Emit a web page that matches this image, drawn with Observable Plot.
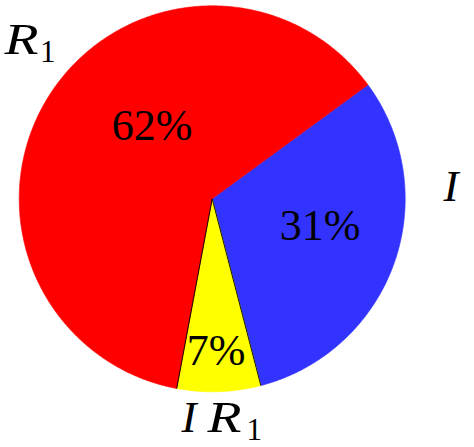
<!DOCTYPE html>
<html><head><meta charset="utf-8">
<script src="https://cdn.jsdelivr.net/npm/d3@7"></script>
<script src="https://cdn.jsdelivr.net/npm/@observablehq/plot@0.6"></script>
<style>html,body{margin:0;padding:0;background:#fff}</style>
</head><body><div id="chart"></div>
<script>
// ---- data ----
const categories = ["I", "IR1", "R1"];
const values = [31, 7, 62];
const colors = ["#3333ff", "#ffff00", "#ff0000"];

// ---- layout (pixels) ----
const W = 474, H = 447;
const cx = 211.7, cy = 198.3, R = 193;
const toX = px => (px - cx) / R, toY = py => (cy - py) / R;
const startDeg = 53.8;

const arcs = d3.pie().sort(null)
  .startAngle(startDeg * Math.PI / 180)
  .endAngle((startDeg + 360) * Math.PI / 180)(values);

const slices = [];
arcs.forEach((a, i) => {
  const k = categories[i];
  slices.push({k, x: 0, y: 0});
  const n = Math.max(2, Math.ceil((a.endAngle - a.startAngle) / (Math.PI / 360)));
  for (let j = 0; j <= n; j++) {
    const t = a.startAngle + (a.endAngle - a.startAngle) * j / n;
    slices.push({k, x: Math.sin(t), y: Math.cos(t)});
  }
  slices.push({k, x: 0, y: 0});
});
const yl = arcs[1];
const edges = [yl.startAngle, yl.endAngle].map(t => ({x1: 0, y1: 0, x2: Math.sin(t), y2: Math.cos(t)}));

// percent labels (baseline-centred positions)
const pctPos = [[319.5, 239], [215.5, 364], [151.7, 139]];
const pct = arcs.map((a, i) => ({text: `${values[i]}%`, x: toX(pctPos[i][0]), y: toY(pctPos[i][1])}));

// category label pieces
const catParts = [
  {text: "R", x: toX(4), y: toY(53.5), italic: true},
  {text: "1", x: toX(39.5), y: toY(61.7), italic: false},
  {text: "I", x: toX(443), y: toY(200.5), italic: true},
  {text: "I", x: toX(181), y: toY(431.7), italic: true},
  {text: "R", x: toX(207), y: toY(431.7), italic: true},
  {text: "1", x: toX(246), y: toY(439.5), italic: false}
];
const italicParts = catParts.filter(d => d.italic);
const subParts = catParts.filter(d => !d.italic);

const chart = Plot.plot({
  width: W, height: H, margin: 0,
  x: {domain: [toX(0), toX(W)], axis: null},
  y: {domain: [toY(H), toY(0)], axis: null},
  color: {domain: categories, range: colors},
  marks: [
    Plot.line(slices, {x: "x", y: "y", z: "k", fill: "k", stroke: "k", strokeWidth: 0.6}),
    Plot.link(edges, {x1: "x1", y1: "y1", x2: "x2", y2: "y2", stroke: "black", strokeWidth: 0.9}),
    Plot.text(pct, {x: "x", y: "y", text: "text", fontSize: 44, fontFamily: "Liberation Serif",
      textAnchor: "middle", lineAnchor: "bottom", fill: "black"}),
    Plot.text(italicParts, {x: "x", y: "y", text: "text", fontSize: 45, fontFamily: "Liberation Serif",
      fontStyle: "italic", textAnchor: "start", lineAnchor: "bottom", fill: "black"}),
    Plot.text(subParts, {x: "x", y: "y", text: "text", fontSize: 31, fontFamily: "Liberation Serif",
      textAnchor: "start", lineAnchor: "bottom", fill: "black"})
  ]
});
// widen the italic R glyphs a little to match the TeX letterforms
chart.querySelectorAll("text").forEach(t => {
  if (t.textContent === "R") { t.setAttribute("textLength", 34); t.setAttribute("lengthAdjust", "spacingAndGlyphs"); }
});
document.getElementById("chart").appendChild(chart);
</script>
</body></html>
